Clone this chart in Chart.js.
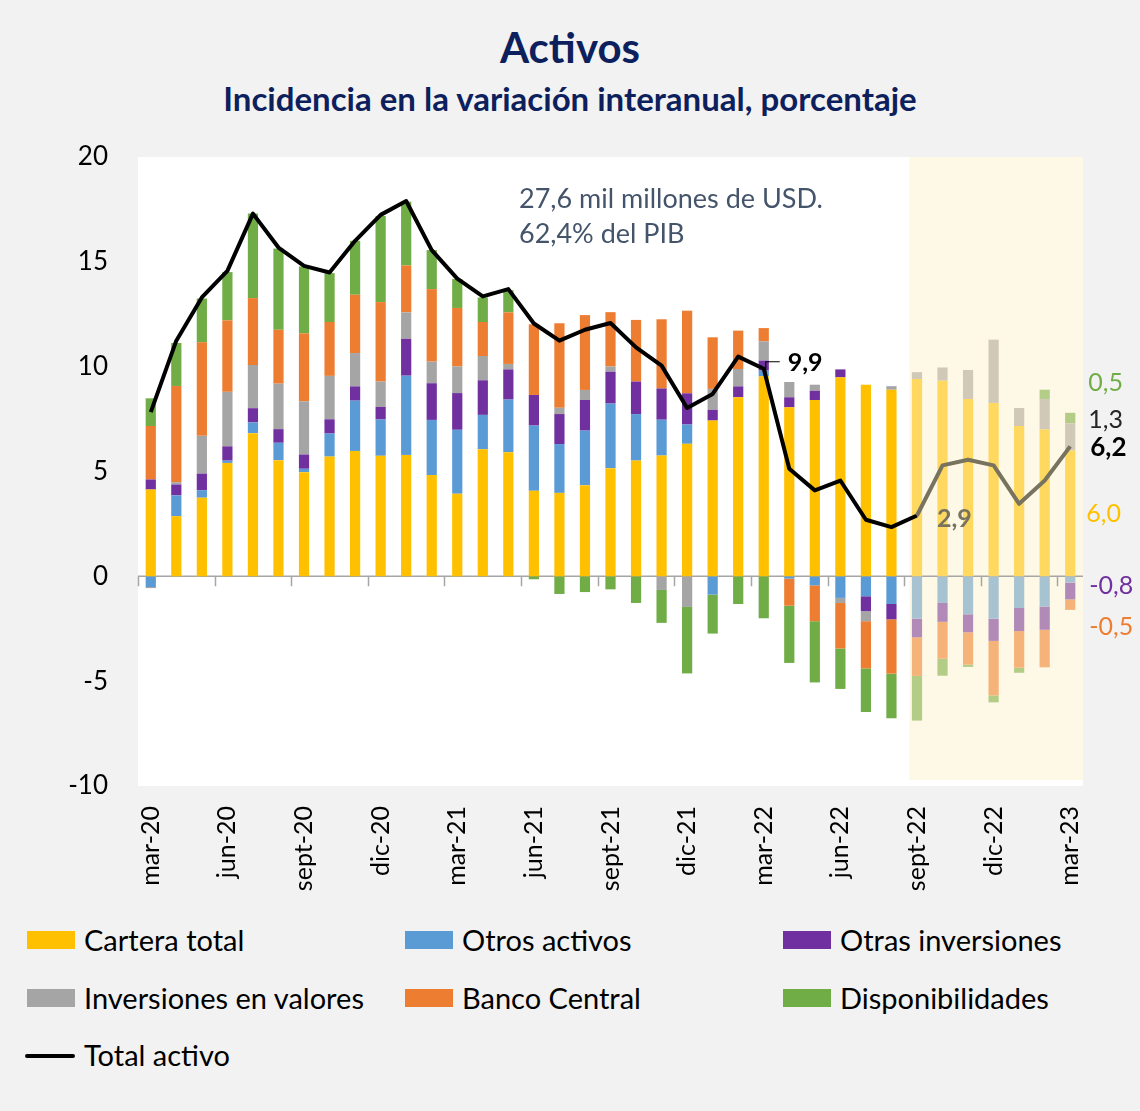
<!DOCTYPE html>
<html lang="es">
<head>
<meta charset="utf-8">
<title>Activos</title>
<script src="https://cdn.jsdelivr.net/npm/chart.js@4.4.1/dist/chart.umd.min.js"></script>
<style>
  html, body { margin: 0; padding: 0; }
  body {
    width: 1140px; height: 1111px; background: #F2F2F2; position: relative;
    font-family: Lato, "Open Sans", sans-serif; overflow: hidden;
  }
  .title {
    position: absolute; left: 0; width: 1140px; text-align: center; color: #0D1F5C; font-weight: bold;
  }
  #t1 { top: 22px; font-size: 42px; }
  #t2 { top: 78px; font-size: 33px; }
  #wrap { position: absolute; left: 0; top: 0; width: 1140px; height: 910px; }
  .legend { position: absolute; font-size: 29px; color: #000; line-height: 30px; }
  .sw { position: absolute; width: 48px; height: 18px; top: 6px; }
  .ln { position: absolute; width: 50px; height: 4px; top: 14px; background: #000; border-radius: 2px; }
  .legend span { position: absolute; left: 57px; white-space: nowrap; }
</style>
</head>
<body>
<div class="title" id="t1">Activos</div>
<div class="title" id="t2">Incidencia en la variación interanual, porcentaje</div>
<div id="wrap"><canvas id="chart"></canvas></div>
<div id="legend"></div>
<script>
// meses mar-20 .. mar-23
const months = [
  'mar-20', 'abr-20', 'may-20', 'jun-20', 'jul-20', 'ago-20', 'sept-20', 'oct-20', 'nov-20', 'dic-20',
  'ene-21', 'feb-21', 'mar-21', 'abr-21', 'may-21', 'jun-21', 'jul-21', 'ago-21', 'sept-21', 'oct-21',
  'nov-21', 'dic-21', 'ene-22', 'feb-22', 'mar-22', 'abr-22', 'may-22', 'jun-22', 'jul-22', 'ago-22',
  'sept-22', 'oct-22', 'nov-22', 'dic-22', 'ene-23', 'feb-23', 'mar-23'
];

const carteraTotal = [
  4.14, 2.87, 3.75, 5.41, 6.83, 5.54, 4.97, 5.71, 5.98, 5.75,
  5.79, 4.83, 3.94, 6.06, 5.92, 4.08, 3.98, 4.35, 5.16, 5.52,
  5.76, 6.32, 7.43, 8.54, 9.54, 8.06, 8.41, 9.49, 9.14, 8.90,
  9.41, 9.33, 8.46, 8.27, 7.17, 7.00, 6.0
];
const otrosActivos = [
  -0.51, 0.99, 0.36, 0.11, 0.51, 0.83, 0.16, 1.10, 2.40, 1.73,
  3.78, 2.63, 3.05, 1.64, 2.51, 3.11, 2.33, 2.60, 3.08, 2.22,
  1.71, 0.92, -0.87, 0, 0.27, -0.11, -0.43, -1.03, -0.95, -1.32,
  -2.02, -1.27, -1.81, -2.02, -1.51, -1.44, -0.3
];
const otrasInversiones = [
  0.48, 0.52, 0.79, 0.68, 0.68, 0.65, 0.68, 0.68, 0.68, 0.60,
  1.76, 1.75, 1.75, 1.65, 1.44, 1.46, 1.43, 1.46, 1.52, 1.55,
  1.49, 1.49, 0.51, 0.52, 0.48, 0.48, 0.44, 0.38, -0.71, -0.73,
  -0.89, -0.90, -0.86, -1.06, -1.10, -1.11, -0.8
];
const inversionesValores = [
  -0.05, 0.11, 1.80, 2.60, 2.06, 2.17, 2.54, 2.07, 1.59, 1.21,
  1.26, 1.03, 1.27, 1.16, 0.26, 0, 0.30, 0.48, 0.25, 0,
  -0.65, -1.46, 1.00, 0.83, 0.92, 0.73, 0.29, -0.24, -0.48, 0.17,
  0.33, 0.63, 1.38, 3.02, 0.86, 1.46, 1.3
];
const bancoCentral = [
  2.55, 4.59, 4.46, 3.41, 3.19, 2.57, 3.24, 2.57, 2.78, 3.79,
  2.24, 3.46, 2.79, 1.62, 2.46, 3.37, 4.03, 3.57, 2.59, 2.94,
  3.30, 3.94, 2.46, 1.83, 0.63, -1.29, -1.71, -2.17, -2.25, -2.59,
  -1.84, -1.76, -1.54, -2.60, -1.75, -1.79, -0.5
];
const disponibilidades = [
  1.32, 2.05, 2.09, 2.30, 4.03, 3.87, 3.19, 2.33, 2.57, 4.11,
  3.04, 1.86, 1.38, 1.17, 1.06, -0.14, -0.84, -0.75, -0.62, -1.27,
  -1.57, -3.17, -1.86, -1.32, -2.00, -2.73, -2.92, -1.93, -2.08, -2.13,
  -2.13, -0.81, -0.11, -0.33, -0.24, 0.44, 0.5
];
const totalActivo = [
  7.83, 11.24, 13.30, 14.57, 17.30, 15.68, 14.81, 14.49, 16.00, 17.24,
  17.90, 15.56, 14.20, 13.35, 13.70, 12.06, 11.24, 11.76, 12.08, 10.92,
  10.05, 8.03, 8.70, 10.48, 9.9, 5.13, 4.10, 4.57, 2.70, 2.35,
  2.9, 5.29, 5.56, 5.29, 3.46, 4.57, 6.2
];

const yTicks = [-10, -5, 0, 5, 10, 15, 20];

// desde sept-22 las barras van atenuadas (zona sombreada)
const SHADE_FROM = months.indexOf('sept-22');
const FONT = 'Lato, "Open Sans", sans-serif';

const series = [
  { label: 'Cartera total', data: carteraTotal, color: '#FFC000', soft: '#FFD85F' },
  { label: 'Otros activos', data: otrosActivos, color: '#5B9BD5', soft: '#A7C3D2' },
  { label: 'Otras inversiones', data: otrasInversiones, color: '#7030A0', soft: '#B18AB8' },
  { label: 'Inversiones en valores', data: inversionesValores, color: '#A5A5A5', soft: '#D1C9B7' },
  { label: 'Banco Central', data: bancoCentral, color: '#ED7D31', soft: '#F5B37A' },
  { label: 'Disponibilidades', data: disponibilidades, color: '#70AD47', soft: '#B3CD87' }
];

function fmt(v) {
  return v.toFixed(1).replace('.', ',');
}

const barSets = series.map(s => ({
  type: 'bar',
  label: s.label,
  data: s.data,
  backgroundColor: s.data.map((_, i) => i >= SHADE_FROM ? s.soft : s.color),
  borderWidth: 0,
  categoryPercentage: 1,
  barPercentage: 0.4,
  stack: 'a',
  order: 1
}));

const lineSet = {
  type: 'line',
  label: 'Total activo',
  data: totalActivo,
  borderColor: '#000',
  borderWidth: 4,
  pointRadius: 0,
  tension: 0,
  borderJoinStyle: 'round',
  segment: {
    borderColor: ctx => ctx.p0DataIndex >= SHADE_FROM ? '#77735F' : '#000'
  },
  order: 0
};

// fondo del área, eje cero, marcas y rótulos
const decorPlugin = {
  id: 'decor',
  beforeDatasetsDraw(chart) {
    const { ctx, chartArea: a, scales: { x, y } } = chart;
    const cw = x.getPixelForValue(1) - x.getPixelForValue(0);
    ctx.save();
    ctx.fillStyle = '#FFFFFF';
    ctx.fillRect(a.left, a.top, a.right - a.left, a.bottom - a.top);
    const sx = x.getPixelForValue(SHADE_FROM) - cw * 0.3;
    ctx.fillStyle = '#FEF8E6';
    ctx.fillRect(sx, a.top, a.right - sx, a.bottom - a.top - 6);

    const y0 = y.getPixelForValue(0);
    ctx.strokeStyle = '#A6A6A6';
    ctx.lineWidth = 1.5;
    ctx.beginPath();
    ctx.moveTo(a.left, y0);
    ctx.lineTo(a.right, y0);
    for (let i = 0; i < months.length; i += 3) {
      const tx = Math.round(x.getPixelForValue(i) - cw / 2) + 0.5;
      ctx.moveTo(tx, y0);
      ctx.lineTo(tx, y0 + 10);
    }
    ctx.stroke();
    ctx.restore();
  },
  afterDraw(chart) {
    const { ctx, scales: { x, y } } = chart;
    const last = months.length - 1;
    const lx = x.getPixelForValue(last) + 18;
    const idxMar22 = months.indexOf('mar-22');

    ctx.save();
    ctx.textBaseline = 'middle';
    ctx.textAlign = 'left';

    // nota
    ctx.fillStyle = '#44546A';
    ctx.font = '27px ' + FONT;
    ctx.fillText('27,6 mil millones de USD.', 519, 199);
    ctx.fillText('62,4% del PIB', 519, 234);

    // 9,9 con guía
    const px = x.getPixelForValue(idxMar22);
    const py = y.getPixelForValue(totalActivo[idxMar22]);
    ctx.strokeStyle = '#000';
    ctx.lineWidth = 1.2;
    ctx.beginPath();
    ctx.moveTo(px + 2, py + 4);
    ctx.lineTo(px + 2, py - 7);
    ctx.lineTo(px + 16, py - 7);
    ctx.stroke();
    ctx.fillStyle = '#000';
    ctx.font = 'bold 25px ' + FONT;
    ctx.fillText(fmt(totalActivo[idxMar22]), px + 24, py - 6);

    // 2,9
    ctx.fillStyle = '#77735F';
    ctx.fillText(fmt(totalActivo[SHADE_FROM]), x.getPixelForValue(SHADE_FROM) + 20, y.getPixelForValue(totalActivo[SHADE_FROM]) + 3);

    // rótulos del último mes
    const c = carteraTotal[last], iv = inversionesValores[last], d = disponibilidades[last];
    const oa = otrosActivos[last], oi = otrasInversiones[last], bc = bancoCentral[last];
    ctx.font = '25px ' + FONT;
    ctx.fillStyle = '#70AD47';
    ctx.fillText(fmt(d), lx, y.getPixelForValue(c + iv + d) - 30);
    ctx.fillStyle = '#262626';
    ctx.fillText(fmt(iv), lx, y.getPixelForValue(c + iv / 2) - 17);
    ctx.fillStyle = '#FFC000';
    ctx.fillText(fmt(c), lx - 2, y.getPixelForValue(c / 2) + 1);
    ctx.fillStyle = '#7030A0';
    ctx.fillText(fmt(oi), lx + 1, y.getPixelForValue(oa + oi / 2) - 5);
    ctx.fillStyle = '#ED7D31';
    ctx.fillText(fmt(bc), lx + 1, y.getPixelForValue(Math.min(oa, 0) + oi + bc / 2) + 22);
    ctx.fillStyle = '#000';
    ctx.font = 'bold 26px ' + FONT;
    ctx.fillText(fmt(totalActivo[last]), lx + 2, y.getPixelForValue(totalActivo[last]) + 1);
    ctx.restore();
  }
};

new Chart(document.getElementById('chart'), {
  data: { labels: months, datasets: [...barSets, lineSet] },
  plugins: [decorPlugin],
  options: {
    responsive: true,
    maintainAspectRatio: false,
    animation: false,
    layout: { padding: { top: 157, right: 57, left: 0, bottom: 0 } },
    plugins: { legend: { display: false }, tooltip: { enabled: false } },
    scales: {
      x: {
        stacked: true,
        grid: { display: false, drawTicks: false },
        border: { display: false },
        afterFit(scale) { scale.height = 124; },
        ticks: {
          autoSkip: false,
          maxRotation: 90,
          minRotation: 90,
          padding: 20,
          color: '#000',
          font: { family: FONT, size: 25 },
          callback(v, i) { return i % 3 === 0 ? months[i] : ''; }
        }
      },
      y: {
        stacked: true,
        min: yTicks[0],
        max: yTicks[yTicks.length - 1],
        afterFit(scale) { scale.width = 138; },
        afterBuildTicks(scale) { scale.ticks = yTicks.map(v => ({ value: v })); },
        grid: { display: false, drawTicks: false },
        border: { display: false },
        ticks: {
          padding: 30,
          color: '#000',
          font: { family: FONT, size: 26 }
        }
      }
    }
  }
});

// leyenda
const legendItems = series.map(s => ({ label: s.label, color: s.color })).concat([{ label: 'Total activo', line: true }]);
const colsX = [27, 405, 783];
const rowsY = [925, 983, 1040];
const legendEl = document.getElementById('legend');
legendItems.forEach((it, i) => {
  const el = document.createElement('div');
  el.className = 'legend';
  el.style.left = colsX[i % 3] + 'px';
  el.style.top = rowsY[Math.floor(i / 3)] + 'px';
  el.innerHTML = (it.line ? '<div class="ln" style="left:-2px"></div>' : '<div class="sw" style="background:' + it.color + '"></div>') +
    '<span>' + it.label + '</span>';
  legendEl.appendChild(el);
});
</script>
</body>
</html>
